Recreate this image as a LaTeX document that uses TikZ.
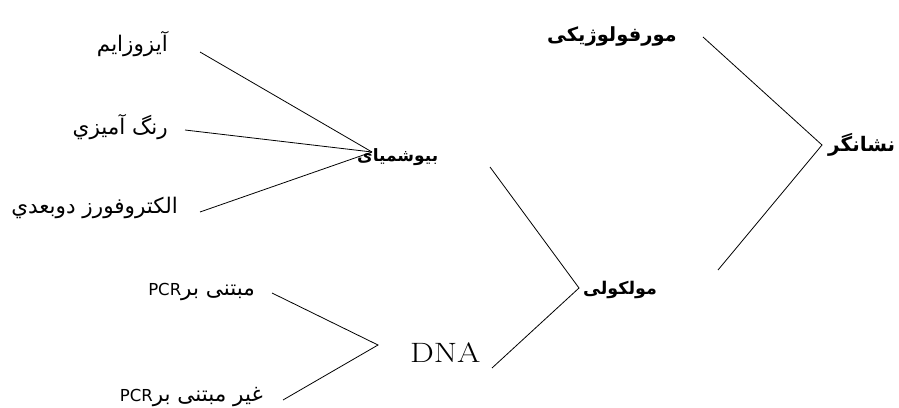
\documentclass[tikz,border=0pt]{standalone}
\usepackage{fontspec}
\newfontfamily\arabicfont[Script=Arabic]{DejaVu Sans}
\TeXXeTstate=1
\newcommand{\lat}[1]{\beginL{\fontsize{16.5}{18}\selectfont #1}\endL}
\tikzset{
  lbl/.style={inner sep=0pt, font=\arabicfont\fontsize{21.5}{24}\selectfont},
  blbl/.style={inner sep=0pt, font=\arabicfont\bfseries\fontsize{#1}{22}\selectfont},
  conn/.style={line width=0.8pt, black},
}
\begin{document}
\begin{tikzpicture}[x=1pt,y=-1pt]
\useasboundingbox (0,0) rectangle (899,407);
% leaf labels
\node[lbl, anchor=east] (iso) at (168,44) {\beginR آیزوزایم\endR};
\node[lbl, anchor=east] (rang) at (168,127) {\beginR رنگ آمیزي\endR};
\node[lbl, anchor=east] (elec) at (178,208) {\beginR الکتروفورز دوبعدي\endR};
\node[lbl, anchor=east] (pcr) at (255,292) {\beginR مبتنی بر\lat{PCR}\endR};
\node[lbl, anchor=east] (npcr) at (263,397) {\beginR غیر مبتنی بر\lat{PCR}\endR};
% middle labels
\node[blbl=17, anchor=west] (bio) at (357,157) {\beginR بیوشمیای\endR};
\node[inner sep=0pt, anchor=west, font=\fontsize{28}{30}\selectfont] (dna) at (410,353) {\scalebox{1.2}[1]{DNA}};
\node[blbl=17.5, anchor=west] (mol) at (583,290) {\beginR مولکولی\endR};
\node[blbl=19.5, anchor=east] (morf) at (677,36) {\beginR مورفولوژیکی\endR};
\node[blbl=20, anchor=west] (nesh) at (828,145) {\beginR نشانگر\endR};
% connector end points
\coordinate (isoE) at (200,52);
\coordinate (rangE) at (185,130);
\coordinate (elecE) at (200,212);
\coordinate (bioV) at (372,152);
\coordinate (bioR) at (490,167);
\coordinate (molV) at (579,288);
\coordinate (dnaR) at (492,368);
\coordinate (dnaV) at (378,345);
\coordinate (pcrE) at (272,293);
\coordinate (npcrE) at (283,400);
\coordinate (morfE) at (703,37);
\coordinate (neshV) at (822,145);
\coordinate (molR) at (718,270);
% connectors
\draw[conn] (isoE) -- (bioV);
\draw[conn] (rangE) -- (bioV);
\draw[conn] (elecE) -- (bioV);
\draw[conn] (bioR) -- (molV) -- (dnaR);
\draw[conn] (pcrE) -- (dnaV) -- (npcrE);
\draw[conn] (morfE) -- (neshV) -- (molR);
\end{tikzpicture}
\end{document}
